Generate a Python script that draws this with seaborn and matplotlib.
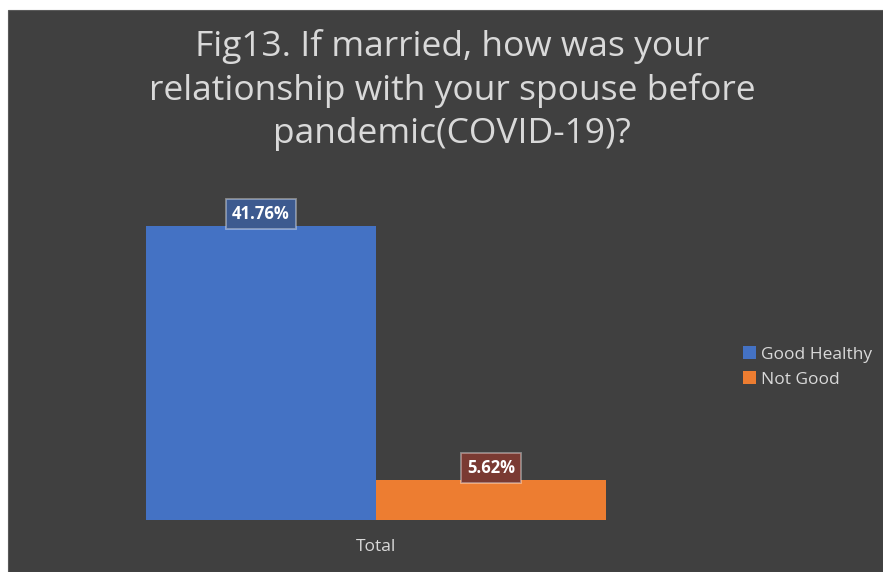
import matplotlib
matplotlib.use("Agg")
import matplotlib.pyplot as plt
import seaborn as sns
import pandas as pd
from matplotlib.patches import Rectangle

categories = ["Total"]
series = ["Good Healthy", "Not Good"]
values = [41.76, 5.62]
labels = ["41.76%", "5.62%"]
colors = ["#4472C4", "#ED7D31"]
label_fills = ["#3D5A8F", "#7A3A32"]

W, H = 883, 572
BG = "#404040"
TXT = "#D9D9D9"

sns.set_theme(style="dark")
plt.rcParams["font.family"] = ["Open Sans", "DejaVu Sans"]

fig = plt.figure(figsize=(W / 100, H / 100), dpi=100, facecolor="white")
fig.patches.append(Rectangle((8 / W, 0), 1 - 8 / W, 1 - 10 / H,
                             transform=fig.transFigure, facecolor=BG,
                             edgecolor="#5a5a5a", lw=0.8, zorder=-10))

# axes in pixel coordinates
ax_left, ax_right = 30, 720
ax_bottom, ax_top = 520, 200
ax = fig.add_axes([ax_left / W, 1 - ax_bottom / H,
                   (ax_right - ax_left) / W, (ax_bottom - ax_top) / H])
ax.set_facecolor("none")
ax.patch.set_alpha(0)

df = pd.DataFrame({"cat": categories * len(series), "series": series, "value": values})
sns.barplot(data=df, x="cat", y="value", hue="series", palette=colors,
            width=0.8, ax=ax, saturation=1, legend=True, edgecolor="none")

px_per_unit_x = (606 - 146) / 0.8
center_px = 376
ax.set_xlim((ax_left - center_px) / px_per_unit_x, (ax_right - center_px) / px_per_unit_x)
px_per_unit_y = (520 - 226) / 41.76
ax.set_ylim(0, (ax_bottom - ax_top) / px_per_unit_y)

for cont, lab, fc in zip(ax.containers, labels, label_fills):
    for bar in cont:
        x = bar.get_x() + bar.get_width() / 2
        y = bar.get_height()
        ax.annotate(lab, (x, y), xytext=(0, 8.8), textcoords="offset points",
                    ha="center", va="center", fontsize=12, fontweight="bold",
                    color="white", zorder=5,
                    bbox=dict(boxstyle="square,pad=0.36", facecolor=fc,
                              edgecolor=(1, 1, 1, 0.4), lw=1.3))

ax.set_xlabel("")
ax.set_ylabel("")
ax.set_yticks([])
ax.tick_params(axis="x", colors=TXT, labelsize=12.5, length=0, pad=14)
for s in ax.spines.values():
    s.set_visible(False)
ax.grid(False)

leg = ax.legend(loc="center left",
                bbox_to_anchor=((743 - ax_left) / (ax_right - ax_left), (520 - 367) / (520 - 200)),
                frameon=False, fontsize=12.5, labelcolor=TXT, handlelength=0.75, handleheight=0.75,
                handletextpad=0.3, labelspacing=0.5, borderaxespad=0, borderpad=0)

fig.text(452 / W, 1 - 90 / H,
         "Fig13. If married, how was your\nrelationship with your spouse before\npandemic(COVID-19)?",
         ha="center", va="center", color=TXT, fontsize=25.5, linespacing=1.35)

fig.savefig("out.png", dpi=100, facecolor="white")
